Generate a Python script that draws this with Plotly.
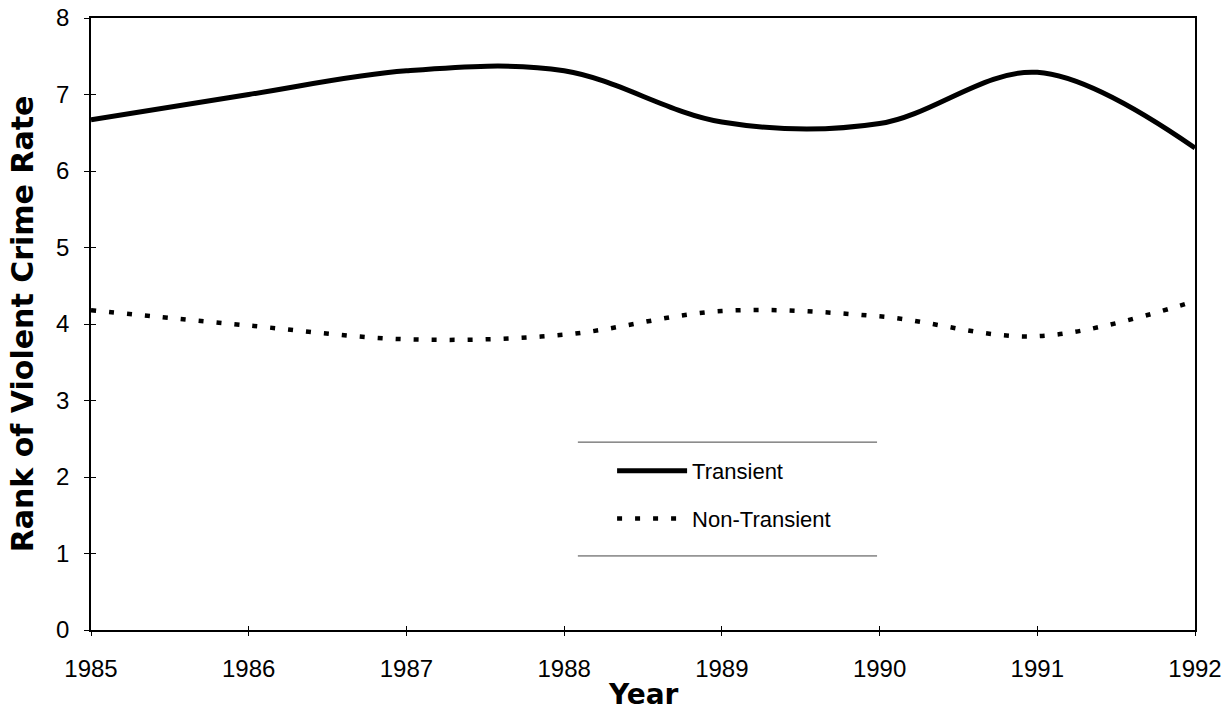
import plotly.graph_objects as go

years = [1985, 1986, 1987, 1988, 1989, 1990, 1991, 1992]
transient = [6.67, 7.00, 7.31, 7.31, 6.64, 6.62, 7.29, 6.30]
non_transient = [4.18, 3.98, 3.80, 3.86, 4.17, 4.10, 3.84, 4.30]
y_ticks = [0, 1, 2, 3, 4, 5, 6, 7, 8]
x_tick_labels = [str(y) for y in years]

fig = go.Figure()
fig.add_trace(go.Scatter(
    x=years, y=transient, mode="lines", name="Transient", legendgroup="t",
    line=dict(color="black", width=5, shape="spline", smoothing=1),
))
fig.add_trace(go.Scatter(
    x=years, y=non_transient, mode="lines", name="Non-Transient", legendgroup="nt",
    line=dict(color="black", width=4.5, dash="5px,13px", shape="spline", smoothing=1),
))
# invisible trace to carry the inner tick marks
fig.add_trace(go.Scatter(x=[years[0]], y=[0], xaxis="x2", yaxis="y2", mode="lines",
                         showlegend=False, hoverinfo="skip", line=dict(width=0)))

tick_font = dict(family="Liberation Sans, Arial, sans-serif", size=24, color="black")
title_font = dict(family="DejaVu Sans, Arial, sans-serif", size=30, color="black", weight="bold")
xtitle_font = dict(family="DejaVu Sans, Arial, sans-serif", size=28, color="black", weight="bold")

fig.update_layout(
    width=1230, height=710,
    margin=dict(l=91, r=35, t=18, b=80, autoexpand=False),
    paper_bgcolor="white", plot_bgcolor="white",
    showlegend=True,
    legend=dict(
        x=0.472, y=0.294, xanchor="left", yanchor="top",
        bgcolor="rgba(0,0,0,0)", borderwidth=0,
        font=dict(family="Liberation Sans, Arial, sans-serif", size=22, color="black"),
        itemwidth=70, tracegroupgap=16,
    ),
    xaxis=dict(
        range=[1985, 1992], tickvals=years, ticktext=x_tick_labels,
        showgrid=False, zeroline=False, automargin=False,
        showline=True, linecolor="black", linewidth=1.5, mirror=True,
        ticks="outside", ticklen=4, tickcolor="black",
        tickfont=tick_font, ticklabelstandoff=12,
    ),
    yaxis=dict(
        range=[0, 8], tickvals=y_ticks, ticktext=[str(v) for v in y_ticks],
        showgrid=False, zeroline=False, automargin=False,
        showline=True, linecolor="black", linewidth=1.5, mirror=True,
        ticks="outside", ticklen=5, tickcolor="black",
        tickfont=tick_font, ticklabelstandoff=10,
        title=dict(text="Rank of Violent Crime Rate", font=title_font, standoff=14),
    ),
    xaxis2=dict(overlaying="x", matches="x", range=[1985, 1992], tickvals=years,
                showticklabels=False, ticks="inside", ticklen=4, tickcolor="black",
                showgrid=False, zeroline=False, showline=False, automargin=False),
    yaxis2=dict(overlaying="y", matches="y", range=[0, 8], tickvals=y_ticks,
                showticklabels=False, ticks="inside", ticklen=5, tickcolor="black",
                showgrid=False, zeroline=False, showline=False, automargin=False),
    annotations=[
        dict(text="Year", xref="paper", yref="paper", x=0.5, y=-0.1046,
             xanchor="center", yanchor="middle", showarrow=False, font=xtitle_font),
    ],
    shapes=[
        dict(type="line", xref="paper", yref="paper", x0=0.441, x1=0.712, y0=0.307, y1=0.307,
             line=dict(color="#444", width=1)),
        dict(type="line", xref="paper", yref="paper", x0=0.441, x1=0.712, y0=0.121, y1=0.121,
             line=dict(color="#444", width=1)),
    ],
)

fig.write_html("out.html", config={"displayModeBar": False},
               post_script="document.body.style.margin='0';")
